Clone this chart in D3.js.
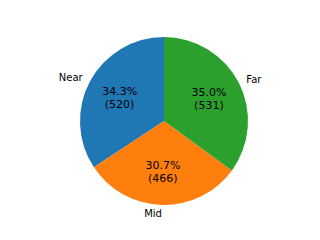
<html>
	<head>
		<style>
			body { margin: 0; background: #ffffff; }
			text { font-family: "DejaVu Sans", sans-serif; }
		</style>
	</head>
	<body>
		<div id="chart"></div>
		<script src="https://cdn.jsdelivr.net/npm/d3@7"></script>
		<script>
			var categories = ["Near", "Mid", "Far"];
			var counts = [520, 466, 531];
			var colorList = ["#1f77b4", "#ff7f0e", "#2ca02c"];

			(function(){
				"use strict";

				var w = 320,
					h = 240,
					r = 84,
					cx = 164,
					cy = 121;

				var total = d3.sum(counts);
				var pieData = categories.map(function(c, i){
					return { label: c, value: counts[i] };
				});

				var colors = d3.scaleOrdinal().domain(categories).range(colorList);

				// matplotlib style: start at 12 o'clock, counterclockwise
				var pie = d3.pie()
					.sort(null)
					.startAngle(0)
					.endAngle(-2 * Math.PI)
					.value(function(d){ return d.value; });

				var arc = d3.arc().innerRadius(0).outerRadius(r);
				var labelArc = d3.arc().innerRadius(r * 1.1).outerRadius(r * 1.1);
				var pctArc = d3.arc().innerRadius(r * 0.6).outerRadius(r * 0.6);

				var svg = d3.select("#chart").append("svg")
					.attr("width", w)
					.attr("height", h);

				var g = svg.append("g")
					.attr("transform", "translate(" + cx + "," + cy + ")");

				var slices = g.selectAll("g.slice")
					.data(pie(pieData))
					.enter()
					.append("g")
					.attr("class", "slice");

				slices.append("path")
					.attr("fill", function(d){ return colors(d.data.label); })
					.attr("d", arc);

				slices.append("text")
					.attr("font-size", "10px")
					.attr("fill", "#000")
					.attr("dominant-baseline", "central")
					.attr("text-anchor", function(d){
						return labelArc.centroid(d)[0] < 0 ? "end" : "start";
					})
					.attr("transform", function(d){
						return "translate(" + labelArc.centroid(d) + ")";
					})
					.text(function(d){ return d.data.label; });

				var pct = slices.append("text")
					.attr("font-size", "11px")
					.attr("fill", "#000")
					.attr("text-anchor", "middle")
					.attr("transform", function(d){
						return "translate(" + pctArc.centroid(d) + ")";
					});

				pct.append("tspan")
					.attr("x", 0)
					.attr("dy", "-0.2em")
					.text(function(d){ return (d.data.value / total * 100).toFixed(1) + "%"; });

				pct.append("tspan")
					.attr("x", 0)
					.attr("dy", "1.15em")
					.text(function(d){ return "(" + d.data.value + ")"; });
			})();
		</script>
	</body>
</html>
